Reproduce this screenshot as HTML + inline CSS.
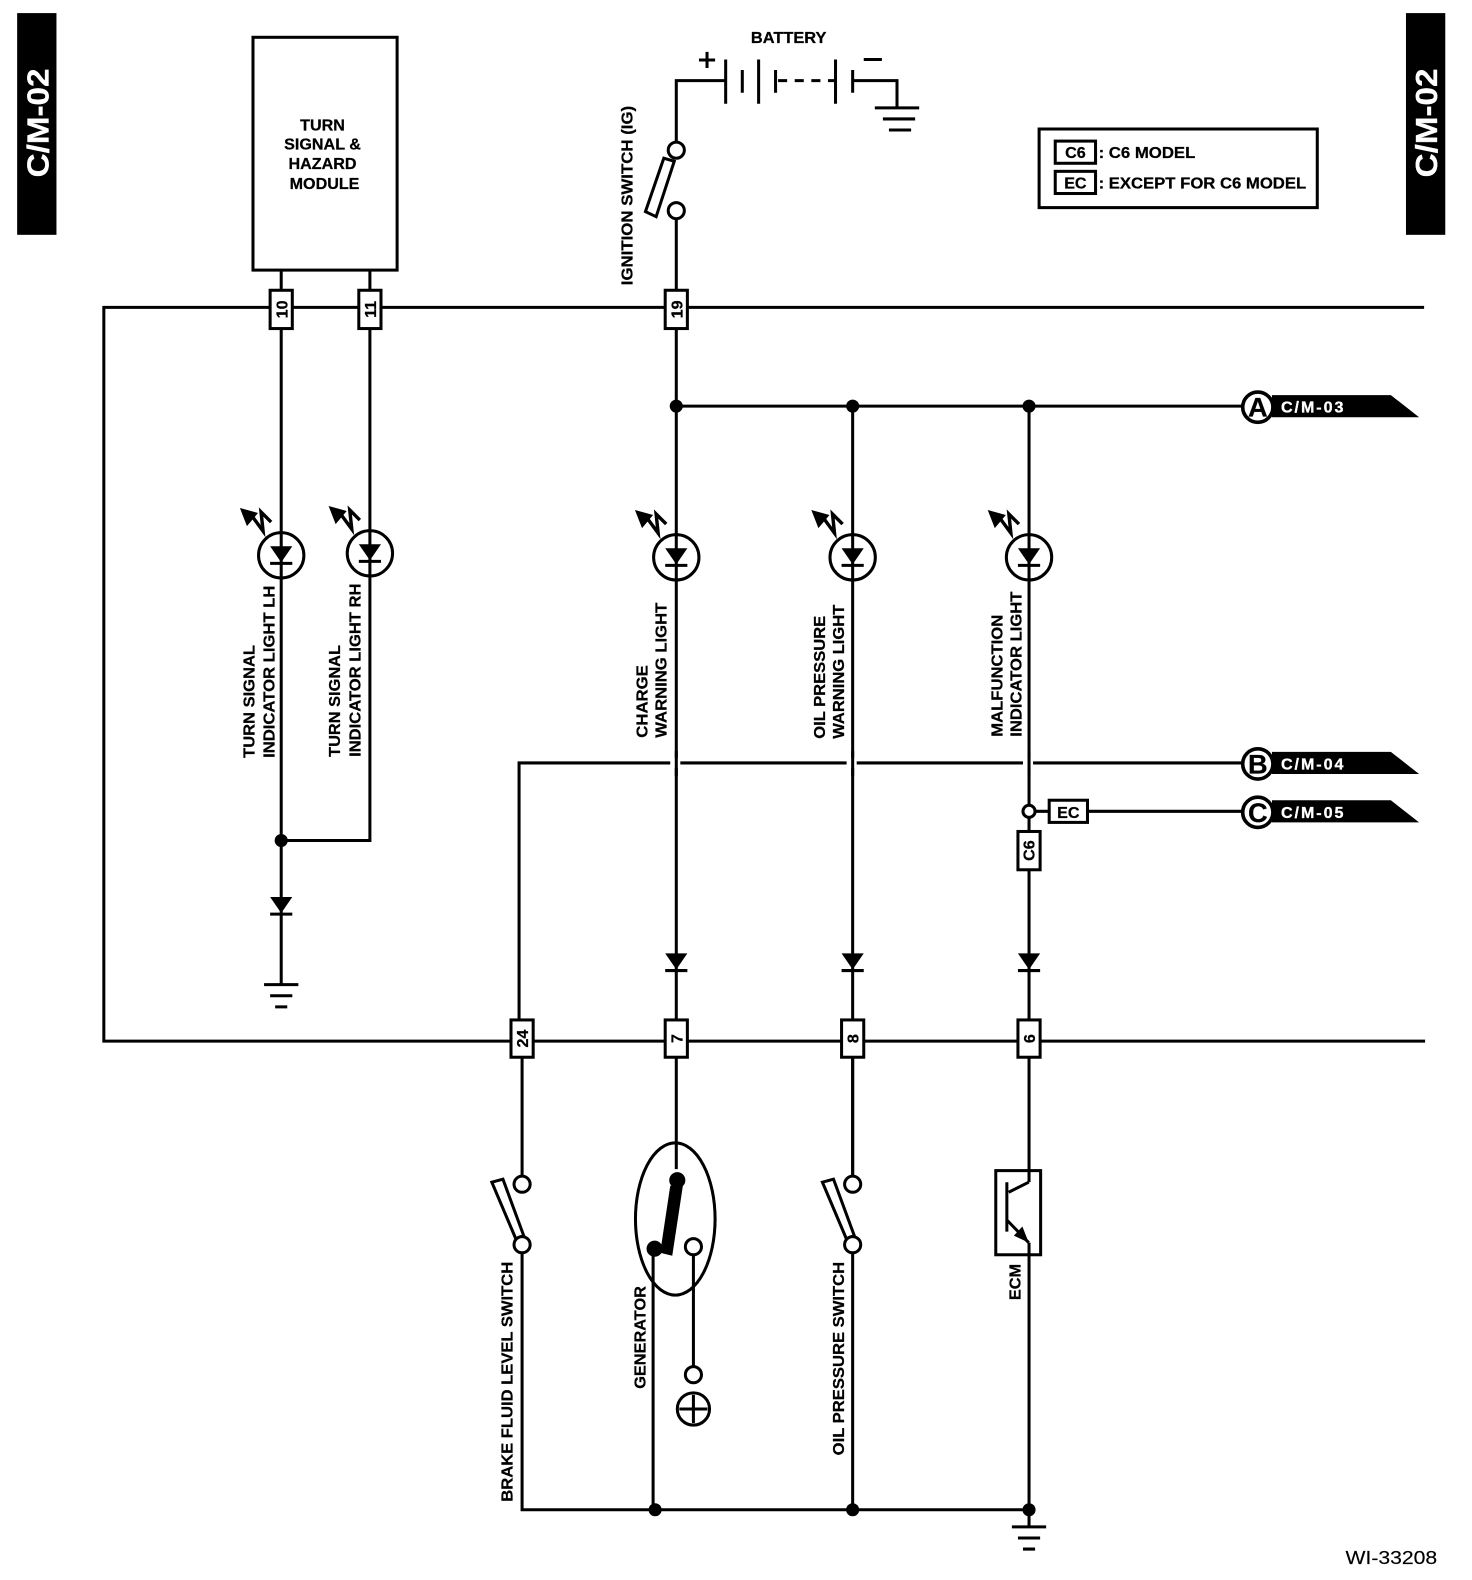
<!DOCTYPE html>
<html><head><meta charset="utf-8"><style>
html,body{margin:0;padding:0;background:#fff}
svg{display:block}
text{font-family:"Liberation Sans",sans-serif;font-weight:bold;fill:#000;stroke:#000;stroke-width:.25}
text.wt{fill:#fff;stroke:#fff;stroke-width:.3}
.w{fill:none;stroke:#000;stroke-width:3}
.b{fill:#fff;stroke:#000;stroke-width:3}
</style></head><body>
<svg xmlns="http://www.w3.org/2000/svg" width="1472" height="1580" viewBox="0 0 1460.500 1567.700">
<defs>
<g id="led"><circle r="22.5" cx="0" cy="0" class="w"/><path d="M-11,-9H11L0,7Z"/><path d="M-11,8H11" class="w"/>
<path d="M-10,-33L-20,-43L-18,-24L-29,-39" class="w" style="stroke-width:3.400"/><path d="M-41,-47L-23,-42L-34,-29Z"/></g>
<g id="dio"><path d="M-11,-8H11L0,8Z"/><path d="M-11,9H11" class="w"/></g>
<g id="gnd"><path d="M-17,0H17M-11,11H11M-6,22H6" class="w"/></g>
<g id="tag"><path d="M14,-12H132L160,10H14Z"/><circle r="15" class="b" style="stroke-width:3.600"/></g>
</defs>
<rect width="1460.500" height="1567.700" fill="#fff"/>

<rect x="17" y="13" width="39" height="220"/><rect x="1395" y="13" width="39" height="220"/>
<text class="wt" transform="translate(48,176) rotate(-90)" font-size="30" textLength="108" lengthAdjust="spacingAndGlyphs">C/M-02</text>
<text class="wt" transform="translate(1426,176) rotate(-90)" font-size="30" textLength="108" lengthAdjust="spacingAndGlyphs">C/M-02</text>

<path class="w" d="M1413,305H103V1033H1414"/>
<path class="w" d="M279,268V977M367,268V834H279"/>
<path class="w" d="M671,217V1160M846,403V1167M1021,403V1173M1021,1233V1498"/>
<path class="w" d="M671,403H1235"/>
<path class="w" d="M515,1012V757H1235"/>
<path class="w" d="M518,1049V1167M518,1243V1498H1021V1515M846,1049V1167M846,1243V1498M648,1239V1498M688,1245V1356"/>
<path class="w" d="M1021,805H1041M1079,805H1235"/>
<rect x="665" y="752" width="10" height="10" fill="#fff"/><rect x="840" y="752" width="10" height="10" fill="#fff"/><rect x="1015" y="752" width="10" height="10" fill="#fff"/>
<path class="w" d="M671,745V770M846,745V770M1021,745V770"/>

<rect x="251" y="37" width="143" height="231" class="b"/>
<g font-size="16" text-anchor="middle"><text x="320" y="129.500">TURN</text><text x="320" y="148.500">SIGNAL &amp;</text><text x="320" y="167.500">HAZARD</text><text x="322" y="187.500">MODULE</text></g>

<path class="w" d="M671,141V80H720M720,59V103M736.500,69.500V92M752.700,59V103M769.500,69.500V92"/>
<path class="w" d="M772,80H829" stroke-dasharray="9 7.500"/>
<path class="w" d="M829,59V103M846,69.500V92M846,80H890V107M868,107H912M876,118H908M882,129H904"/>
<path class="w" d="M693.500,59.500H709.500M701.500,51.500V67.500M857,59H875"/>
<text x="745" y="42.500" font-size="16" textLength="75" lengthAdjust="spacingAndGlyphs">BATTERY</text>
<polygon class="b" points="658.600,157 669,160 651,215 640.400,210"/>
<circle cx="671" cy="149" r="8" class="b"/><circle cx="671" cy="209" r="8" class="b"/>
<text transform="translate(627.500,283) rotate(-90)" font-size="16" textLength="178" lengthAdjust="spacingAndGlyphs">IGNITION SWITCH (IG)</text>

<rect x="1031" y="128" width="276" height="78" class="b"/>
<rect x="1047" y="140" width="40" height="22" class="b"/><rect x="1047" y="170" width="40" height="22" class="b"/>
<g font-size="16"><text x="1067" y="157" text-anchor="middle">C6</text><text x="1067" y="187" text-anchor="middle">EC</text>
<text x="1090" y="157" textLength="96" lengthAdjust="spacingAndGlyphs">: C6 MODEL</text><text x="1090" y="187" textLength="206" lengthAdjust="spacingAndGlyphs">: EXCEPT FOR C6 MODEL</text></g>

<g class="b"><rect x="268" y="288" width="22" height="38"/><rect x="356" y="288" width="22" height="38"/><rect x="660" y="288" width="22" height="38"/>
<rect x="507" y="1012" width="22" height="37"/><rect x="660" y="1012" width="22" height="37"/><rect x="835" y="1012" width="22" height="37"/><rect x="1010" y="1012" width="22" height="37"/>
<rect x="1010" y="825" width="22" height="38"/><rect x="1041" y="794" width="38" height="22"/></g>
<g font-size="16" text-anchor="middle">
<text transform="translate(285,307) rotate(-90)">10</text><text transform="translate(373,307) rotate(-90)">11</text><text transform="translate(677,307) rotate(-90)">19</text>
<text transform="translate(524,1030.500) rotate(-90)">24</text><text transform="translate(677,1030.500) rotate(-90)">7</text><text transform="translate(852,1030.500) rotate(-90)">8</text><text transform="translate(1027,1030.500) rotate(-90)">6</text>
<text transform="translate(1026.500,844) rotate(-90)">C6</text><text x="1060" y="811.500">EC</text></g>
<circle cx="1021" cy="805" r="6" class="b"/>

<use href="#led" x="279" y="551"/><use href="#led" x="367" y="549"/><use href="#led" x="671" y="553"/><use href="#led" x="846" y="553"/><use href="#led" x="1021" y="553"/>
<use href="#dio" x="279" y="898"/><use href="#dio" x="671" y="954"/><use href="#dio" x="846" y="954"/><use href="#dio" x="1021" y="954"/>
<use href="#gnd" x="279" y="977"/><use href="#gnd" x="1021" y="1515"/>
<g><circle cx="671" cy="403" r="6.500"/><circle cx="846" cy="403" r="6.500"/><circle cx="1021" cy="403" r="6.500"/><circle cx="279" cy="834" r="6.500"/><circle cx="650" cy="1498" r="6.500"/><circle cx="846" cy="1498" r="6.500"/><circle cx="1021" cy="1498" r="6.500"/></g>

<use href="#tag" x="1248" y="404"/><use href="#tag" x="1248" y="758"/><use href="#tag" x="1248" y="806"/>
<g font-size="27" text-anchor="middle"><text x="1248" y="413.500">A</text><text x="1248" y="767.500">B</text><text x="1248" y="815.500">C</text></g>
<g font-size="16"><text class="wt" x="1271" y="409.500" textLength="62">C/M-03</text><text class="wt" x="1271" y="763.500" textLength="62">C/M-04</text><text class="wt" x="1271" y="811.500" textLength="62">C/M-05</text></g>

<g font-size="16">
<text transform="translate(252.500,752) rotate(-90)" textLength="112" lengthAdjust="spacingAndGlyphs">TURN SIGNAL</text>
<text transform="translate(272.500,752) rotate(-90)" textLength="171" lengthAdjust="spacingAndGlyphs">INDICATOR LIGHT LH</text>
<text transform="translate(337.500,751) rotate(-90)" textLength="111" lengthAdjust="spacingAndGlyphs">TURN SIGNAL</text>
<text transform="translate(357.500,751) rotate(-90)" textLength="172" lengthAdjust="spacingAndGlyphs">INDICATOR LIGHT RH</text>
<text transform="translate(642.500,732) rotate(-90)" textLength="72" lengthAdjust="spacingAndGlyphs">CHARGE</text>
<text transform="translate(661.500,732) rotate(-90)" textLength="134" lengthAdjust="spacingAndGlyphs">WARNING LIGHT</text>
<text transform="translate(818.500,733) rotate(-90)" textLength="122" lengthAdjust="spacingAndGlyphs">OIL PRESSURE</text>
<text transform="translate(837.500,733) rotate(-90)" textLength="133" lengthAdjust="spacingAndGlyphs">WARNING LIGHT</text>
<text transform="translate(994.500,731) rotate(-90)" textLength="121" lengthAdjust="spacingAndGlyphs">MALFUNCTION</text>
<text transform="translate(1013.500,731) rotate(-90)" textLength="144" lengthAdjust="spacingAndGlyphs">INDICATOR LIGHT</text>
<text transform="translate(508.500,1490) rotate(-90)" textLength="238" lengthAdjust="spacingAndGlyphs">BRAKE FLUID LEVEL SWITCH</text>
<text transform="translate(640.500,1378) rotate(-90)" textLength="102" lengthAdjust="spacingAndGlyphs">GENERATOR</text>
<text transform="translate(837.500,1444) rotate(-90)" textLength="192" lengthAdjust="spacingAndGlyphs">OIL PRESSURE SWITCH</text>
<text transform="translate(1012.500,1290) rotate(-90)" textLength="36" lengthAdjust="spacingAndGlyphs">ECM</text>
</g>

<polygon class="b" points="488,1173 499,1170 519.600,1226 511.700,1229"/>
<circle cx="518" cy="1175" r="8" class="b"/><circle cx="518" cy="1235" r="8" class="b"/>
<polygon class="b" points="816,1173 827,1170 847.600,1226 839.700,1229"/>
<circle cx="846" cy="1175" r="8" class="b"/><circle cx="846" cy="1235" r="8" class="b"/>

<ellipse cx="670" cy="1209.500" rx="39.500" ry="75.500" class="w"/>
<circle cx="672" cy="1171" r="8"/><circle cx="649.500" cy="1239" r="8"/>
<polygon points="678,1173.600 667,1246 655,1243 665,1176.600"/>
<circle cx="688" cy="1237" r="8" class="b"/><circle cx="688" cy="1364" r="8" class="b"/>
<circle cx="688" cy="1398" r="16" class="w"/><path class="w" d="M674,1398H702M688,1384V1412"/>

<rect x="988" y="1161.500" width="44.500" height="83.500" class="w"/>
<path class="w" d="M999,1173V1222M1000.800,1183L1020.700,1173M999.500,1211L1020.700,1233"/>
<polygon points="1006,1226 1014.400,1217 1020.700,1233"/>

<text x="1335" y="1552" font-size="18.500" textLength="91" lengthAdjust="spacingAndGlyphs" style="font-weight:normal;stroke-width:.15">WI-33208</text>
</svg>
</body></html>
